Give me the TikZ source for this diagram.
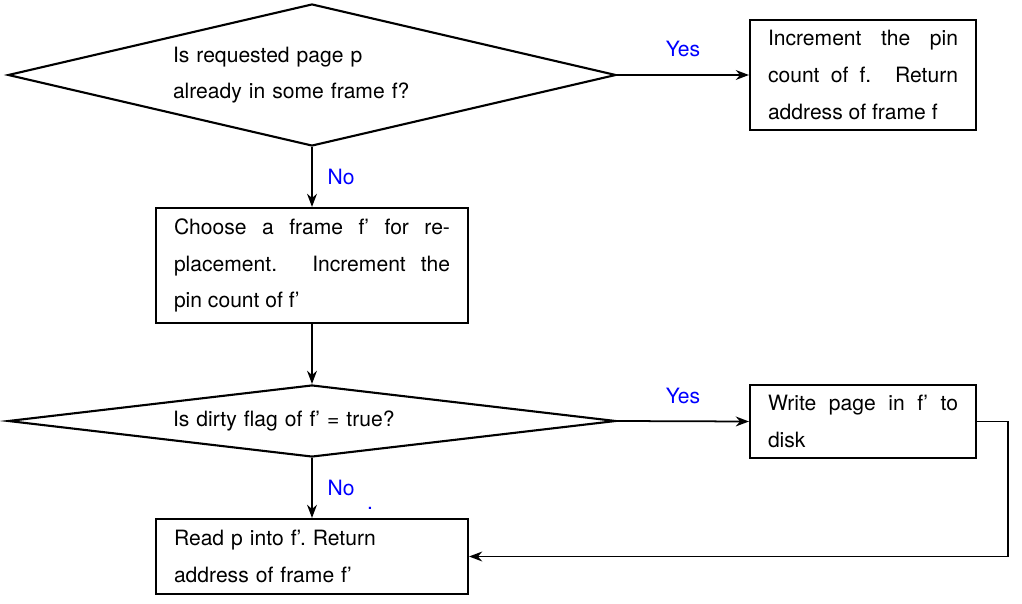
\documentclass[tikz,border=0pt]{standalone}
\usepackage{fontspec}
\setmainfont{TeX Gyre Heros}
\usetikzlibrary{positioning, shapes.geometric, arrows.meta}

\begin{document}
\begin{tikzpicture}[
  >=Stealth,
  every node/.style={font=\fontsize{12}{20.8}\selectfont},
  decision/.style={draw, diamond, line width=1.2pt, inner sep=0pt,
                   minimum width=12.16cm, text width=5.56cm, align=left},
  action/.style={draw, rectangle, line width=1.2pt, inner xsep=0.36cm,
                 inner ysep=0pt, align=justify},
  answer/.style={text=blue},
  flow/.style={->, line width=1pt}
]
\useasboundingbox (0,0) rectangle (20.44,12.06);

% ---- Page lookup ----
\node[decision, minimum height=2.84cm, shape aspect=4.28] (lookup) at (6.24, 10.56)
  {Is requested page p\\ already in some frame f?};
\node[action, text width=3.8cm, minimum height=2.2cm] (hit) at (17.26, 10.56)
  {Increment the pin\linebreak count of f. Return\linebreak address of frame f};

% ---- Replacement ----
\node[action, text width=5.52cm, minimum height=2.3cm] (choose) at (6.24, 6.75)
  {Choose a frame f' for re-\linebreak placement. Increment the\linebreak pin count of f'};
\node[decision, minimum height=1.44cm, shape aspect=8.44] (dirty) at (6.24, 3.64)
  {Is dirty flag of f' = true?};
\node[action, text width=3.8cm, minimum height=1.46cm] (write) at (17.26, 3.63)
  {Write page in f' to\linebreak disk};
\node[action, text width=5.52cm, minimum height=1.5cm, align=left] (read) at (6.24, 0.93)
  {Read p into f'.\ Return\\ address of frame f'};

% ---- Connectors ----
\draw[flow] (lookup.east) -- node[answer, yshift=0.52cm] {Yes} (hit.west);
\draw[flow] (lookup.south) -- node[answer, xshift=0.58cm] {No} (choose.north);
\draw[flow] (choose.south) -- (dirty.north);
\draw[flow] (dirty.east) -- node[answer, yshift=0.5cm] {Yes} (write.west);
\draw[flow] (dirty.south) -- node[answer, xshift=0.58cm] (nolabel) {No} (read.north);
\node[answer, inner sep=0pt] (stray) at (7.40, 1.90) {.};
\draw[flow] (write.east) -- ++(0.62,0) |- (read.east);

\end{tikzpicture}
\end{document}
